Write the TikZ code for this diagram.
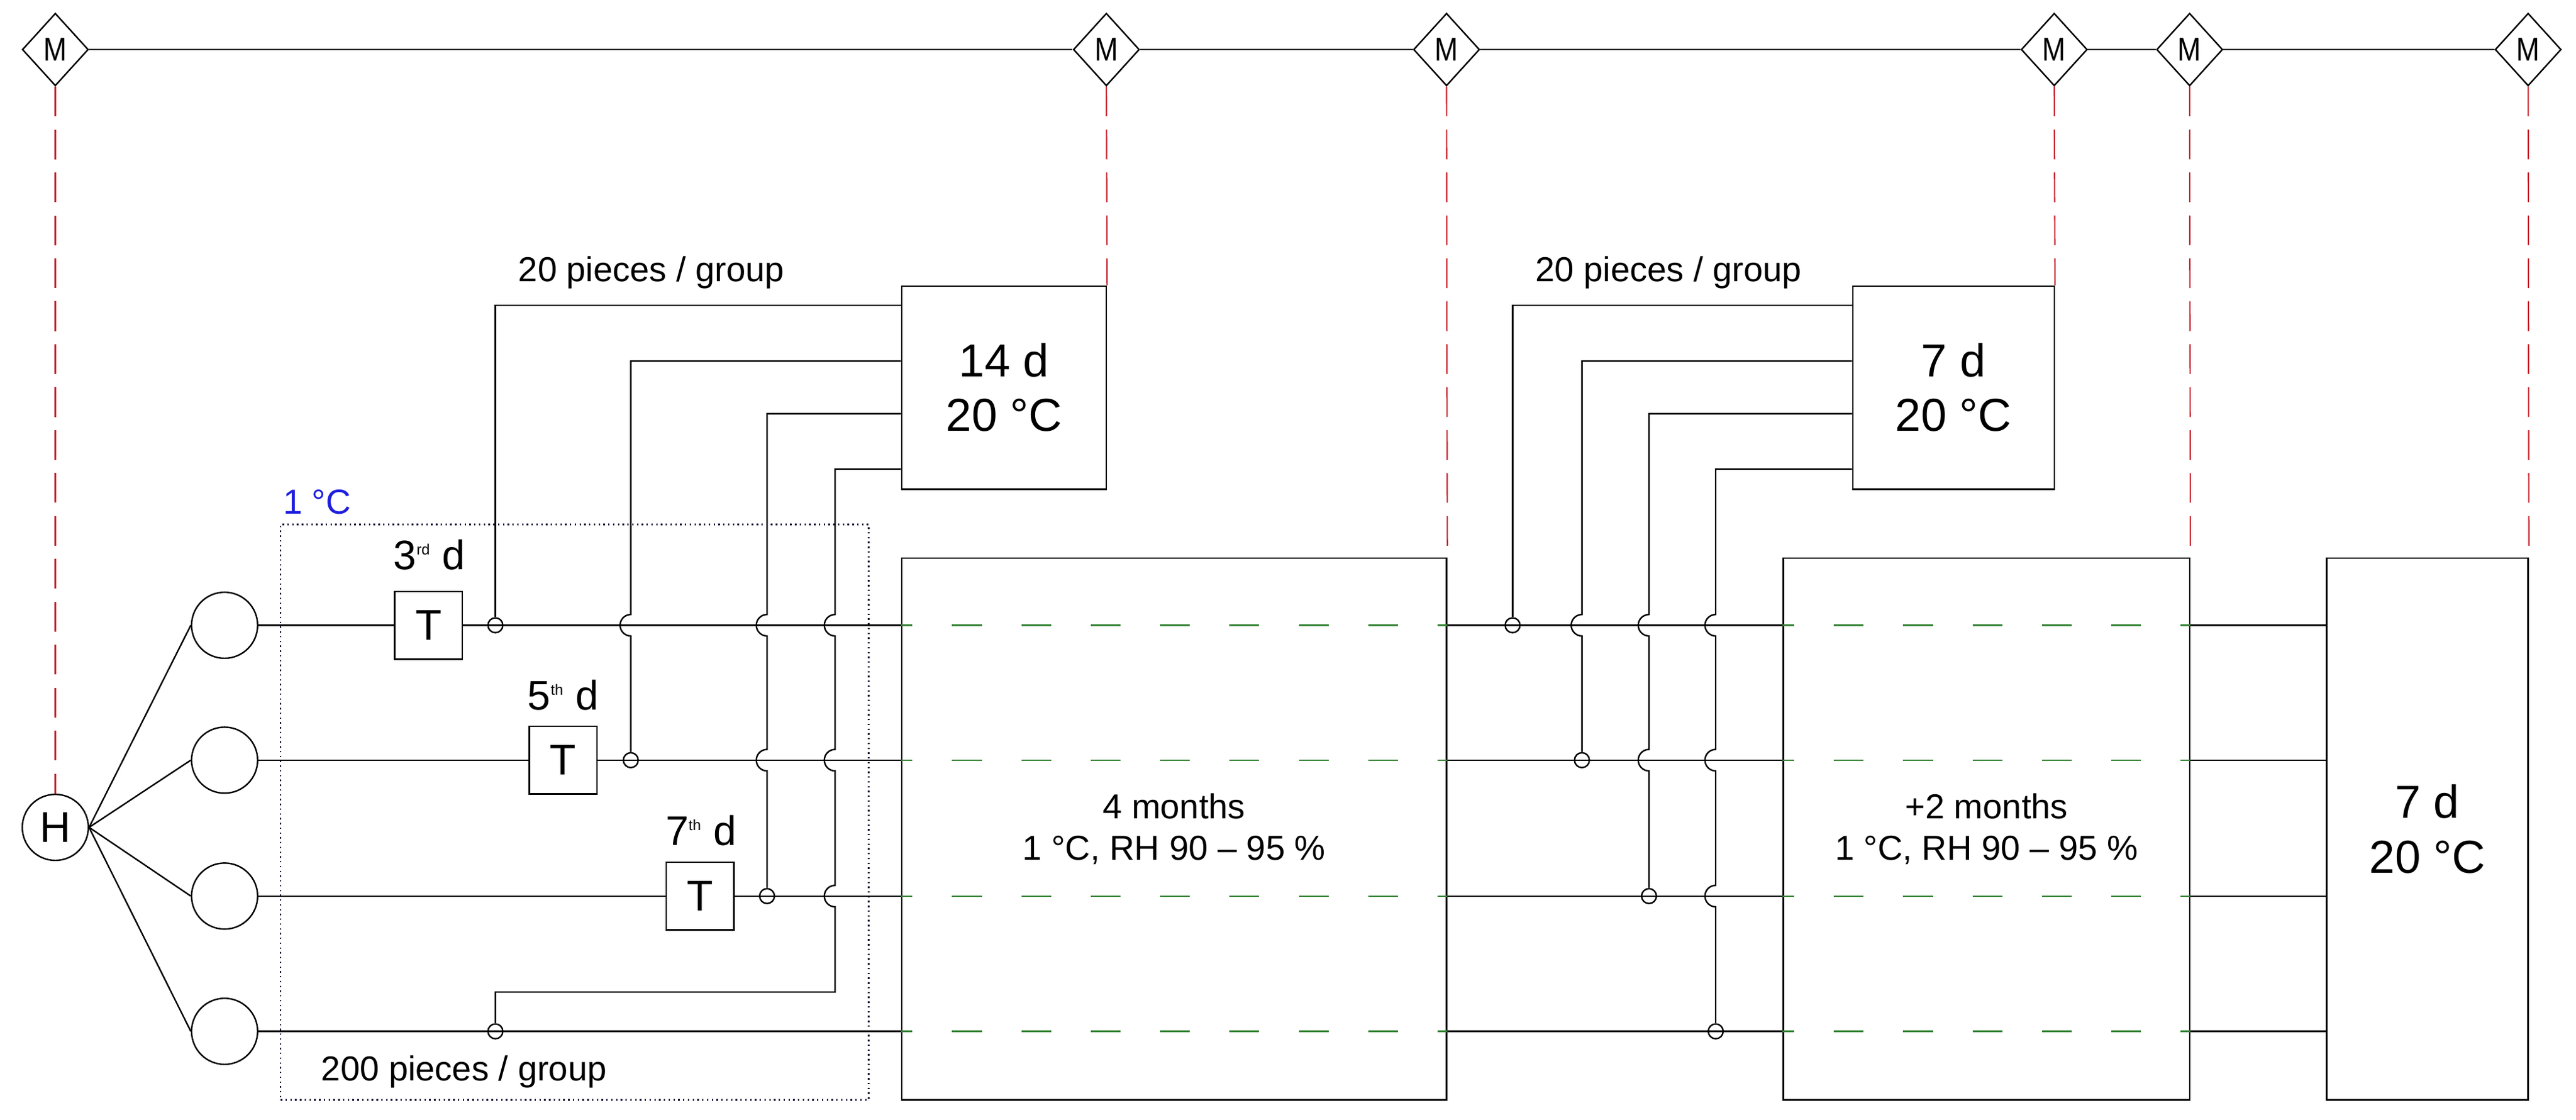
\documentclass[tikz,border=0pt]{standalone}
\usepackage{fontspec}
\setmainfont{Liberation Sans}
\usetikzlibrary{shapes.geometric}
\definecolor{dred}{RGB}{200,40,50}
\definecolor{dgreen}{RGB}{50,130,50}
\definecolor{dblue}{RGB}{30,30,220}
\begin{document}
\begin{tikzpicture}[x=1pt,y=-1pt,line width=0.9pt,
  mn/.style={diamond,draw,fill=white,inner sep=0pt,minimum width=40pt,minimum height=44pt,font=\fontsize{20}{20}\selectfont},
  box/.style={draw,rectangle,inner sep=0pt,align=center,font=\fontsize{28}{33}\selectfont},
  bigbox/.style={draw,rectangle,inner sep=0pt,align=center,font=\fontsize{21}{25}\selectfont},
  tb/.style={draw,rectangle,inner sep=0pt,minimum width=41pt,minimum height=41pt,font=\fontsize{26}{26}\selectfont},
  cir/.style={draw,circle,inner sep=0pt,minimum size=40pt},
  jn/.style={draw,circle,inner sep=0pt,minimum size=9pt},
  lbl/.style={font=\fontsize{21}{21}\selectfont},
  dl/.style={font=\fontsize{25}{25}\selectfont},
  red/.style={dred,dash pattern=on 18pt off 8pt,line width=0.8pt},
  grn/.style={dgreen,dash pattern=on 18pt off 24pt,dash phase=11pt,line width=0.8pt},
  hop/.style={}]
\useasboundingbox (0,0) rectangle (1560,678);
% M nodes
\node[mn] (m1) at (33.5,30) {\scalebox{0.85}[1]{M}};
\node[mn] (m2) at (670,30) {\scalebox{0.85}[1]{M}};
\node[mn] (m3) at (876,30) {\scalebox{0.85}[1]{M}};
\node[mn] (m4) at (1244,30) {\scalebox{0.85}[1]{M}};
\node[mn] (m5) at (1326,30) {\scalebox{0.85}[1]{M}};
\node[mn] (m6) at (1531,30) {\scalebox{0.85}[1]{M}};
\draw (m1) -- (m2) -- (m3) -- (m4) -- (m5) -- (m6);
% boxes
\node[box,minimum width=124pt,minimum height=123pt] (b14) at (608,234.7) {14 d\\20 °C};
\node[box,minimum width=122pt,minimum height=123pt] (b7) at (1183,234.7) {7 d\\20 °C};
\node[bigbox,minimum width=330pt,minimum height=328pt] (B1) at (711,502) {4 months\\1 °C, RH 90 – 95 \%};
\node[bigbox,minimum width=246pt,minimum height=328pt] (B2) at (1203,502) {+2 months\\1 °C, RH 90 – 95 \%};
\node[box,minimum width=122pt,minimum height=328pt] (B3) at (1470,502) {7 d\\20 °C};
% H and circles
\node[cir] (H) at (33.5,501) {\fontsize{26}{26}\selectfont H};
\node[cir] (c1) at (136,378.6) {};
\node[cir] (c2) at (136,460.3) {};
\node[cir] (c3) at (136,542.6) {};
\node[cir] (c4) at (136,624.5) {};
\foreach \c in {c1,c2,c3,c4} \draw (H.east) -- (\c.west);
% red dashed
\draw[red] (m1.south) -- (H.north);
\draw[red] (m2.south) -- (b14.north east);
\draw[red] (m3.south) -- (B1.north east);
\draw[red] (m4.south) -- (b7.north east);
\draw[red] (m5.south) -- (B2.north east);
\draw[red] (m6.south) -- (B3.north east);
% dotted region
\node[draw=black!80!blue,dotted,line width=0.9pt,rectangle,minimum width=356pt,minimum height=348.5pt,inner sep=0pt] (cold) at (348,491.75) {};
\node[anchor=south west,text=dblue,lbl,inner sep=0pt] (coldl) at (171,312) {1 °C};
% T boxes
\node[tb] (t1) at (259.5,378.6) {T};
\node[tb] (t2) at (341,460.3) {T};
\node[tb] (t3) at (424,542.6) {T};
\node[dl] (d1) at (260,336) {3\textsuperscript{\fontsize{9}{9}\selectfont rd} d};
\node[dl] (d2) at (341,421) {5\textsuperscript{\fontsize{9}{9}\selectfont th} d};
\node[dl] (d3) at (424.5,503) {7\textsuperscript{\fontsize{9}{9}\selectfont th} d};
% junctions
\node[jn] (j1) at (300,378.6) {};
\node[jn] (j2) at (382,460.3) {};
\node[jn] (j3) at (464.5,542.6) {};
\node[jn] (j4) at (300,624.5) {};
\node[jn] (k1) at (916,378.6) {};
\node[jn] (k2) at (958,460.3) {};
\node[jn] (k3) at (998.6,542.6) {};
\node[jn] (k4) at (1039,624.5) {};
% rows
\draw (c1.east) -- (t1) -- (B1.west|-c1);
\draw (c2.east) -- (t2) -- (B1.west|-c2);
\draw (c3.east) -- (t3) -- (B1.west|-c3);
\draw (c4.east) -- (B1.west|-c4);
\foreach \c in {c1,c2,c3,c4}{
  \draw[grn] (B1.west|-\c) -- (B1.east|-\c);
  \draw (B1.east|-\c) -- (B2.west|-\c);
  \draw[grn] (B2.west|-\c) -- (B2.east|-\c);
  \draw (B2.east|-\c) -- (B3.west|-\c);
}
% first group verticals
\draw (b14.west|-0,185) -- (300,185) -- (j1);
\draw (b14.west|-0,218.6) -- (382,218.6) -- (382,372.1) arc[start angle=90,end angle=270,radius=6.5pt] -- (j2);
\draw (b14.west|-0,250.5) -- (464.5,250.5) -- (464.5,372.1) arc[start angle=90,end angle=270,radius=6.5pt] -- (464.5,453.8) arc[start angle=90,end angle=270,radius=6.5pt] -- (j3);
\draw (b14.west|-0,284) -- (505.7,284) -- (505.7,372.1) arc[start angle=90,end angle=270,radius=6.5pt] -- (505.7,453.8) arc[start angle=90,end angle=270,radius=6.5pt] -- (505.7,536.1) arc[start angle=90,end angle=270,radius=6.5pt] -- (505.7,600.7) -- (300,600.7) -- (j4);
% second group verticals
\draw (b7.west|-0,185) -- (916,185) -- (k1);
\draw (b7.west|-0,218.6) -- (958,218.6) -- (958,372.1) arc[start angle=90,end angle=270,radius=6.5pt] -- (k2);
\draw (b7.west|-0,250.5) -- (998.6,250.5) -- (998.6,372.1) arc[start angle=90,end angle=270,radius=6.5pt] -- (998.6,453.8) arc[start angle=90,end angle=270,radius=6.5pt] -- (k3);
\draw (b7.west|-0,284) -- (1039,284) -- (1039,372.1) arc[start angle=90,end angle=270,radius=6.5pt] -- (1039,453.8) arc[start angle=90,end angle=270,radius=6.5pt] -- (1039,536.1) arc[start angle=90,end angle=270,radius=6.5pt] -- (k4);
% labels
\node[lbl] (g1) at (394.5,165) {20 pieces / group};
\node[lbl] (g2) at (1010.5,165) {20 pieces / group};
\node[lbl] (g3) at (281,649) {200 pieces / group};
\end{tikzpicture}
\end{document}
